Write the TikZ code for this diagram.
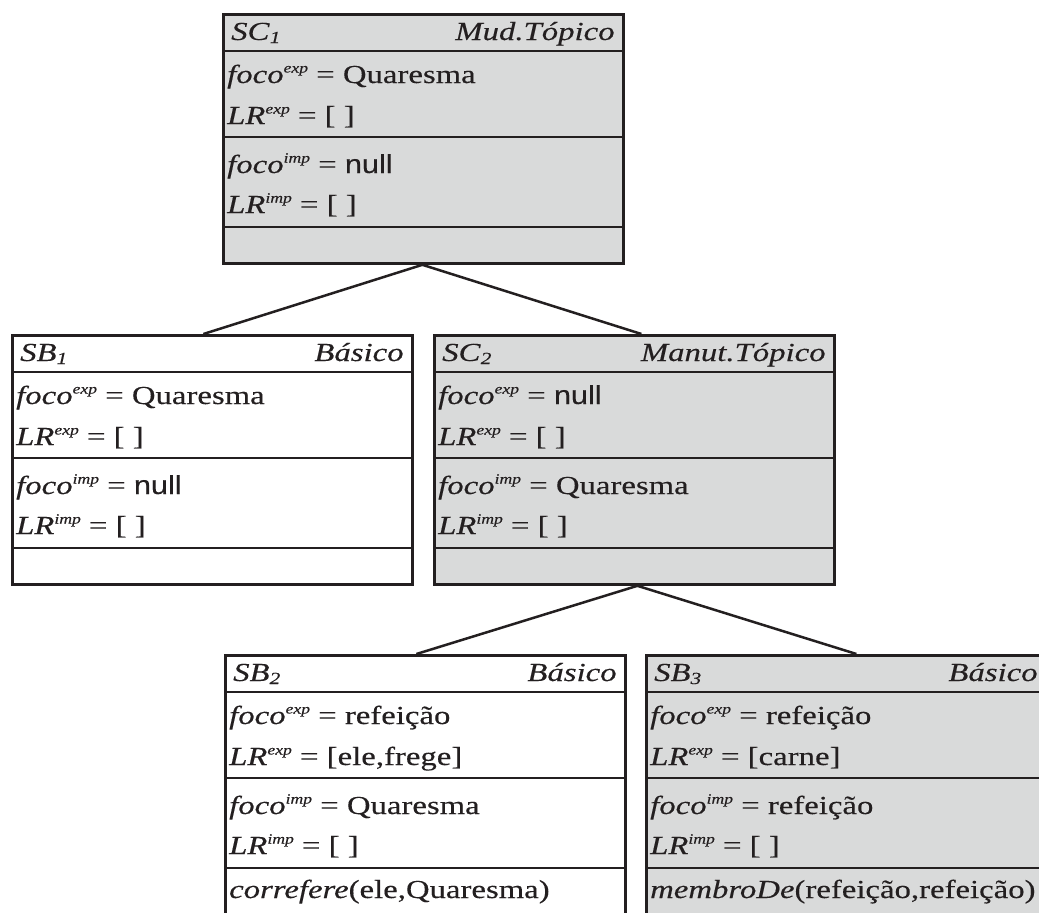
\documentclass[tikz,border=0pt]{standalone}
\usepackage{fontspec}
\setmainfont{Liberation Serif}[FakeStretch=1.26, FakeBold=0.3]
\newfontfamily\arialish{Liberation Sans}[FakeStretch=1.18, FakeBold=0.3]
\definecolor{ink}{RGB}{35,31,32}
\definecolor{panel}{RGB}{217,218,218}

% raised and lowered small italic text for the attribute names
\newcommand\upx[1]{\raisebox{10.5pt}{\fontsize{14}{14}\selectfont\itshape #1}}
\newcommand\dnx[1]{\raisebox{-3pt}{\fontsize{17}{17}\selectfont\itshape #1}}
\newcommand\fc[1]{\textit{foco}\upx{#1}}
\newcommand\lr[1]{\textit{LR}\upx{#1}}
\newcommand\nul{{\arialish null}}

\tikzset{
  statebox/.style={draw=ink, line width=2.8pt, rectangle, anchor=north west,
    inner sep=0pt, minimum width=400pt, minimum height=249pt},
  rule/.style={draw=ink, line width=2.8pt},
  link/.style={draw=ink, line width=2.5pt},
  txt/.style={anchor=base west, inner sep=0pt, text=ink,
    font=\fontsize{26}{29}\selectfont},
  txtr/.style={txt, anchor=base east},
}

% one state: name, corner, fill, title, index, kind
\newcommand\stateframe[6]{%
  \node[statebox, fill=#3] (#1) at #2 {};
  \draw[rule] ([yshift=-38pt]#1.north west) -- ([yshift=-38pt]#1.north east);
  \draw[rule] ([yshift=-124pt]#1.north west) -- ([yshift=-124pt]#1.north east);
  \draw[rule] ([yshift=-214pt]#1.north west) -- ([yshift=-214pt]#1.north east);
  \node[txt] (#1-title) at ([shift={(9pt,-27pt)}]#1.north west) {\textit{#4}\dnx{#5}};
  \node[txtr] (#1-kind) at ([shift={(-10pt,-27pt)}]#1.north east) {\textit{#6}};
}
% the four attribute lines of a state
\newcommand\statelines[5]{%
  \node[txt] (#1-a) at ([shift={(5pt,-70pt)}]#1.north west) {#2};
  \node[txt] (#1-b) at ([shift={(5pt,-111pt)}]#1.north west) {#3};
  \node[txt] (#1-c) at ([shift={(5pt,-160pt)}]#1.north west) {#4};
  \node[txt] (#1-d) at ([shift={(5pt,-200pt)}]#1.north west) {#5};
}

\begin{document}
\begin{tikzpicture}[x=1pt, y=-1pt]
\useasboundingbox[fill=white] (0,0) rectangle (1039,913);

% top: topic change
\stateframe{sc1}{(222,13)}{panel}{SC}{1}{Mud.Tópico}
\statelines{sc1}{\fc{exp} = Quaresma}{\lr{exp} = [ ]}{\fc{imp} = \nul}{\lr{imp} = [ ]}

% middle row
\stateframe{sb1}{(11,334)}{white}{SB}{1}{Básico}
\statelines{sb1}{\fc{exp} = Quaresma}{\lr{exp} = [ ]}{\fc{imp} = \nul}{\lr{imp} = [ ]}

\stateframe{sc2}{(433,334)}{panel}{SC}{2}{Manut.Tópico}
\statelines{sc2}{\fc{exp} = \nul}{\lr{exp} = [ ]}{\fc{imp} = Quaresma}{\lr{imp} = [ ]}

% bottom row, running past the lower edge
\tikzset{statebox/.append style={minimum height=290pt}}
\stateframe{sb2}{(224,654)}{white}{SB}{2}{Básico}
\statelines{sb2}{\fc{exp} = refeição}{\lr{exp} = [ele,frege]}{\fc{imp} = Quaresma}{\lr{imp} = [ ]}
\node[txt] (sb2-e) at ([shift={(5pt,-244pt)}]sb2.north west) {\textit{correfere}(ele,Quaresma)};

\stateframe{sb3}{(645,654)}{panel}{SB}{3}{Básico}
\statelines{sb3}{\fc{exp} = refeição}{\lr{exp} = [carne]}{\fc{imp} = refeição}{\lr{imp} = [ ]}
\node[txt] (sb3-e) at ([shift={(5pt,-244pt)}]sb3.north west) {\textit{membroDe}(refeição,refeição)};

% tree edges
\draw[link] ([xshift=-1pt]sc1.south) -- ([xshift=-9pt]sb1.north);
\draw[link] ([xshift=-1pt]sc1.south) -- ([xshift=7pt]sc2.north);
\draw[link] ([xshift=3pt]sc2.south) -- ([xshift=-9pt]sb2.north);
\draw[link] ([xshift=3pt]sc2.south) -- ([xshift=10pt]sb3.north);
\end{tikzpicture}
\end{document}
